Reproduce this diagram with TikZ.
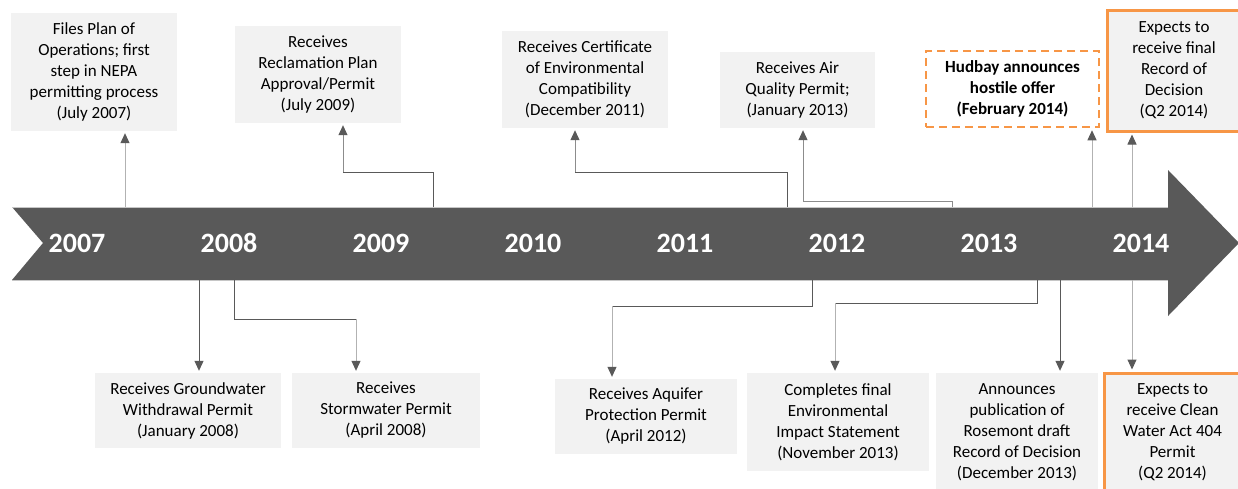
\documentclass[tikz,border=0pt]{standalone}
\usepackage{fontspec}
\setmainfont{Carlito}
\usepackage{tikz}
\usetikzlibrary{arrows.meta,positioning}
\definecolor{bandCol}{RGB}{89,89,89}
\definecolor{boxCol}{RGB}{242,242,242}
\definecolor{lightLinkCol}{RGB}{178,178,178}
\definecolor{midLinkCol}{RGB}{140,140,140}
\definecolor{orangeCol}{RGB}{247,150,70}
\tikzset{myLine/.style={line width=1pt,color=bandCol}}
\tikzset{myLink/.style={myLine,-{Triangle[width=9pt,length=10pt,color=bandCol]},shorten >=2pt}}
\tikzset{myLinkLight/.style={myLink,color=lightLinkCol}}
\tikzset{myBox/.style={fill=boxCol,inner sep=0pt,align=center,font=\fontsize{17}{21}\selectfont}}
\tikzset{myYear/.style={text=white,font=\fontsize{28}{34}\selectfont\bfseries}}
\newcommand{\yTop}{207}
\newcommand{\yBot}{280}

\begin{document}
\begin{tikzpicture}[x=1pt,y=-1pt]
	\useasboundingbox(0,0) rectangle (1238,488);
	\clip(0,0) rectangle (1238,488);

	% the big timeline arrow
	\fill[bandCol](12,\yTop)--(1168,\yTop)--(1168,170)--(1239,243)--(1168,316)--(1168,\yBot)--(12,\yBot)--(43,243)--cycle;
	\draw[gray!45, line width=0.8pt](12,\yTop)--(1168,\yTop);
	\draw[gray!45, line width=0.8pt](12,\yBot)--(1168,\yBot);

	\node[myYear] (y2007) at (77,243) {2007};
	\node[myYear] (y2008) at (229,243) {2008};
	\node[myYear] (y2009) at (381,243) {2009};
	\node[myYear] (y2010) at (533,243) {2010};
	\node[myYear] (y2011) at (685,243) {2011};
	\node[myYear] (y2012) at (837,243) {2012};
	\node[myYear] (y2013) at (989,243) {2013};
	\node[myYear] (y2014) at (1141,243) {2014};

	% events above the line
	\node[myBox, minimum width=166pt, minimum height=118pt] (plan) at (94,72) {Files Plan of\\Operations; first\\step in NEPA\\permitting process\\(July 2007)};
	\node[myBox, minimum width=166pt, minimum height=97pt] (recl) at (318,74.5) {Receives\\Reclamation Plan\\Approval/Permit\\(July 2009)};
	\node[myBox, minimum width=166pt, minimum height=97pt] (cert) at (585,79.5) {Receives Certificate\\of Environmental\\Compatibility\\(December 2011)};
	\node[myBox, minimum width=155pt, minimum height=76pt] (air) at (797.5,90) {Receives Air\\Quality Permit;\\(January 2013)};
	\node[myBox, fill=white, draw=orangeCol, line width=2.5pt, dash pattern=on 8pt off 5pt, minimum width=173pt, minimum height=76pt, font=\fontsize{17}{21}\selectfont\bfseries] (hud) at (1012.5,89) {Hudbay announces\\hostile offer\\(February 2014)};
	\node[myBox, draw=orangeCol, line width=3pt, minimum width=134pt, minimum height=121pt] (rod) at (1174,70.5) {Expects to\\receive final\\Record of\\Decision\\(Q2 2014)};

	% events below the line
	\node[myBox, minimum width=186pt, minimum height=75pt] (gw) at (188,410.5) {Receives Groundwater\\Withdrawal Permit\\(January 2008)};
	\node[myBox, minimum width=188pt, minimum height=75pt] (sw) at (386,410.5) {Receives\\Stormwater Permit\\(April 2008)};
	\node[myBox, minimum width=182pt, minimum height=75pt] (aq) at (646,416.5) {Receives Aquifer\\Protection Permit\\(April 2012)};
	\node[myBox, minimum width=182pt, minimum height=98pt] (eis) at (838,422) {Completes final\\Environmental\\Impact Statement\\(November 2013)};
	\node[myBox, minimum width=162pt, minimum height=119pt] (draft) at (1017,432.5) {Announces\\publication of\\Rosemont draft\\Record of Decision\\(December 2013)};
	\node[myBox, draw=orangeCol, line width=3pt, minimum width=137pt, minimum height=119pt] (cwa) at (1172.5,432.5) {Expects to\\receive Clean\\Water Act 404\\Permit\\(Q2 2014)};

	% links from the line up to the boxes
	\coordinate (pPlan) at (125,\yTop);
	\draw[myLinkLight](pPlan)--(pPlan |- plan.south);
	\coordinate (pRecl) at (433,\yTop);
	\coordinate (kRecl) at (343,172);
	\draw[myLine](pRecl) |- (kRecl);
	\draw[myLink, color=midLinkCol](kRecl)--(kRecl |- recl.south);
	\coordinate (pCert) at (787,\yTop);
	\coordinate (kCert) at (575,172);
	\draw[myLine](pCert) |- (kCert);
	\draw[myLink, color=midLinkCol](kCert)--(kCert |- cert.south);
	\coordinate (pAir) at (952,\yTop);
	\coordinate (kAir) at (803,201);
	\draw[myLine, color=midLinkCol](pAir) |- (kAir);
	\draw[myLink, color=midLinkCol](kAir)--(kAir |- air.south);
	\coordinate (pHud) at (1092,\yTop);
	\draw[myLinkLight](pHud)--(pHud |- hud.south);
	\coordinate (pRod) at (1132,\yTop);
	\draw[myLinkLight](pRod)--(pRod |- rod.south);

	% links from the line down to the boxes
	\coordinate (pGw) at (199,\yBot);
	\draw[myLink](pGw)--(pGw |- gw.north);
	\coordinate (pSw) at (234,\yBot);
	\coordinate (kSw) at (356,319);
	\draw[myLine](pSw) |- (kSw);
	\draw[myLinkLight](kSw)--(kSw |- sw.north);
	\coordinate (pAq) at (812,\yBot);
	\coordinate (kAq) at (612,306);
	\draw[myLine](pAq) |- (kAq);
	\draw[myLinkLight](kAq)--(kAq |- aq.north);
	\coordinate (pEis) at (1037,\yBot);
	\coordinate (kEis) at (835,303);
	\draw[myLine](pEis) |- (kEis);
	\draw[myLinkLight](kEis)--(kEis |- eis.north);
	\coordinate (pDraft) at (1060,\yBot);
	\draw[myLink](pDraft)--(pDraft |- draft.north);
	\coordinate (pCwa) at (1132,\yBot);
	\draw[myLinkLight](pCwa)--(pCwa |- cwa.north);

\end{tikzpicture}
\end{document}
